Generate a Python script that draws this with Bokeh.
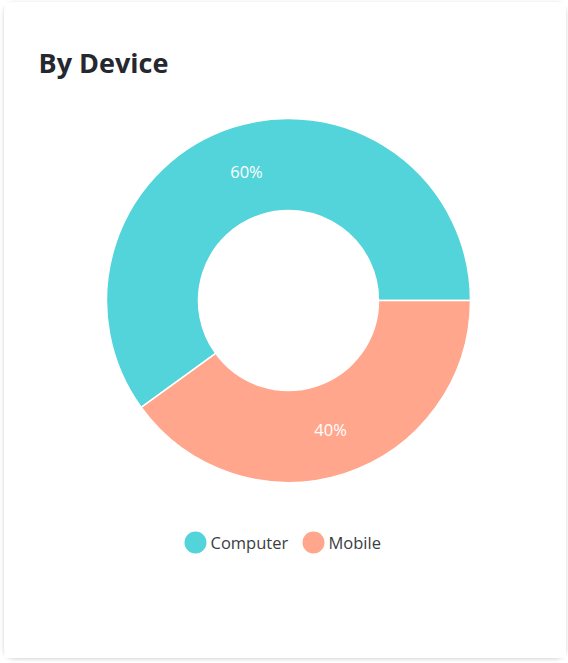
import math
from bokeh.plotting import figure
from bokeh.models import Range1d
from bokeh.core.properties import value
from bokeh.embed import file_html
from bokeh.resources import INLINE

# ---- data ----
categories = ["Computer", "Mobile"]
shares = [60, 40]
colors = ["#53D3DA", "#FFA68C"]
title_text = "By Device"

W, H = 562, 656
p = figure(width=W, height=H, output_backend="svg", toolbar_location=None,
           x_range=Range1d(0, W), y_range=Range1d(0, H),
           min_border=0, min_border_left=0, min_border_right=0,
           min_border_top=0, min_border_bottom=0)
p.axis.visible = False
p.grid.visible = False
p.outline_line_color = None
p.background_fill_color = "white"
p.border_fill_color = "white"
p.styles = {"border-radius": "10px", "box-shadow": "0 1px 4px rgba(0,0,0,0.18)",
            "margin-left": "4px", "margin-top": "2px"}

cx, cy = 284, H - 298
r_out, r_in = 182, 90

total = sum(shares)
start = 0.0
starts, ends, mids = [], [], []
for s in shares:
    a = 2 * math.pi * s / total
    starts.append(start)
    ends.append(start + a)
    mids.append(start + a / 2)
    start += a

p.annular_wedge(x=[cx] * len(shares), y=[cy] * len(shares), inner_radius=r_in, outer_radius=r_out,
                start_angle=starts, end_angle=ends, fill_color=colors,
                line_color="white", line_width=1.5)

r_lab = (r_in + r_out) / 2
lx = [cx + r_lab * math.cos(m) for m in mids]
ly = [cy + r_lab * math.sin(m) for m in mids]
p.text(x=lx, y=ly, text=[f"{s}%" for s in shares], text_color="white",
       text_font=value("Open Sans"), text_font_size="16.5px",
       text_align="center", text_baseline="middle")

# title
p.text(x=[34], y=[H - 60], text=[title_text], text_color="#25282e",
       text_font=value("Open Sans"), text_font_size="27px", text_font_style="bold",
       text_align="left", text_baseline="middle")

# legend
leg_y = H - 540
leg_x = [191, 309]
p.scatter(x=leg_x, y=[leg_y] * 2, size=22, marker="circle", fill_color=colors, line_color=None)
p.text(x=[x + 15 for x in leg_x], y=[leg_y] * 2, text=categories, text_color="#3a3d42",
       text_font=value("Open Sans"), text_font_size="16.5px",
       text_align="left", text_baseline="middle")

open("out.html", "w").write(file_html(p, INLINE))
